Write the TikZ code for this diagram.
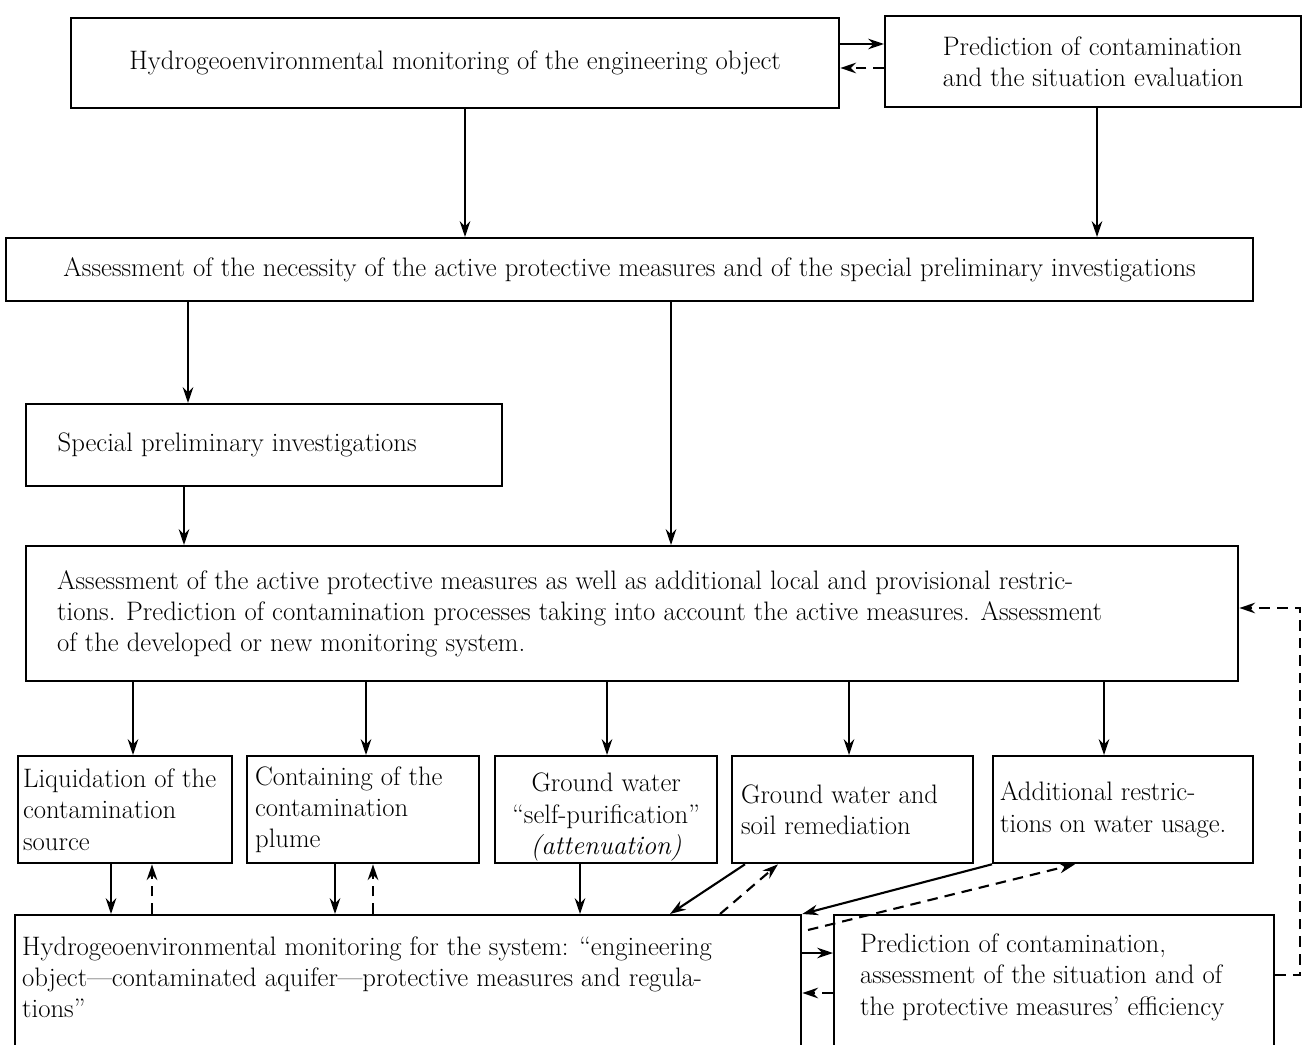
\documentclass[tikz,border=0pt]{standalone}
\usepackage{tikz}
\usetikzlibrary{arrows.meta,calc}

\tikzset{
  box/.style={draw,line width=1.3pt,inner sep=0pt,anchor=north west,align=left},
  dash line/.style={dashed,dash pattern=on 6pt off 4pt}
}

\begin{document}
\begin{tikzpicture}[x=0.2mm,y=-0.2mm,>={Stealth[length=9pt,width=6pt]},line width=1.2pt,
  font=\fontsize{15.2}{17.8}\selectfont]
  \useasboundingbox (0,0) rectangle (1303,1045);
  % upper part: monitoring and prediction
  \node[box,minimum width=768*0.2mm,minimum height=90*0.2mm] (mon) at (70,17)
    {Hydrogeoenvironmental monitoring of the engineering object};
  \node[box,minimum width=416*0.2mm,minimum height=91*0.2mm] (pred) at (884,15)
    {Prediction of contamination\\and the situation evaluation};
  \draw[->] (mon.east |- 0,44) -- (pred.west |- 0,44);
  \draw[->,dash line] (pred.west |- 0,68) -- (mon.east |- 0,68);
  % necessity of the measures
  \node[box,minimum width=1247*0.2mm,minimum height=63*0.2mm] (need) at (5,237)
    {Assessment of the necessity of the active protective measures and of the special preliminary investigations};
  \draw[->] (mon.south -| 465,0) -- (need.north -| 465,0);
  \draw[->] (pred.south -| 1097,0) -- (need.north -| 1097,0);
  % special investigations
  \node[box,minimum width=476*0.2mm,minimum height=82*0.2mm] (spec) at (25,403)
    {\hspace*{5.4mm}\parbox{88mm}{Special preliminary investigations}};
  \draw[->] (need.south -| 188,0) -- (spec.north -| 188,0);
  % assessment of the active measures
  \node[box,minimum width=1212*0.2mm,minimum height=135*0.2mm] (big) at (25,545)
    {\hspace*{6mm}\parbox{236mm}{\raggedright
      Assessment of the active protective measures as well as additional local and provisional restric-\\
      tions. Prediction of contamination processes taking into account the active measures. Assessment\\
      of the developed or new monitoring system.}};
  \draw[->] (spec.south -| 184,0) -- (big.north -| 184,0);
  \draw[->] (need.south -| 671,0) -- (big.north -| 671,0);
  % the measures
  \node[box,minimum width=214*0.2mm,minimum height=107*0.2mm] (liq) at (17,755)
    {\hspace*{1mm}\parbox{41.8mm}{Liquidation of the\\contamination\\source}};
  \node[box,minimum width=232*0.2mm,minimum height=107*0.2mm] (cont) at (246,755)
    {\hspace*{1.6mm}\parbox{44.8mm}{Containing of the\\contamination\\plume}};
  \node[box,minimum width=222*0.2mm,minimum height=107*0.2mm] (self) at (494,755)
    {\parbox[c][19.2mm][b]{44.4mm}{\centering Ground water\\``self-purification''\\\textit{(attenuation)}}};
  \node[box,minimum width=241*0.2mm,minimum height=107*0.2mm] (rem) at (731,755)
    {\hspace*{1.8mm}\parbox{46.4mm}{Ground water and\\soil remediation}};
  \node[box,minimum width=260*0.2mm,minimum height=107*0.2mm] (add) at (992,755)
    {\hspace*{1.4mm}\parbox{50.6mm}{Additional restric-\\tions on water usage.}};
  \foreach \x/\m in {133/liq,366/cont,607/self,849/rem,1104/add}
    \draw[->] (big.south -| \x,0) -- (\m.north -| \x,0);
  % monitoring of the whole system
  \node[box,minimum width=786*0.2mm,minimum height=140*0.2mm] (botl) at (14,914)
    {\hspace*{1.4mm}\parbox{155.8mm}{Hydrogeoenvironmental monitoring for the system: ``engineering\\
      object---contaminated aquifer---protective measures and regula-\\tions''\par\vspace*{3.2mm}}};
  \node[box,minimum width=440*0.2mm,minimum height=140*0.2mm] (botr) at (833,914)
    {\hspace*{5.2mm}\parbox{82.8mm}{Prediction of contamination,\\
      assessment of the situation and of\\the protective measures' efficiency\par\vspace*{3.2mm}}};
  \draw[->] (botl.east |- 0,953) -- (botr.west |- 0,953);
  \draw[->,dash line] (botr.west |- 0,993) -- (botl.east |- 0,993);
  % links between the measures and the monitoring
  \draw[->] (liq.south -| 111,0) -- (botl.north -| 111,0);
  \draw[->,dash line] (botl.north -| 152,0) -- (liq.south -| 152,0);
  \draw[->] (cont.south -| 335,0) -- (botl.north -| 335,0);
  \draw[->,dash line] (botl.north -| 373,0) -- (cont.south -| 373,0);
  \draw[->] (self.south -| 580,0) -- (botl.north -| 580,0);
  \draw[->] (rem.south -| 745,0) -- (botl.north -| 670,0);
  \draw[->,dash line] (botl.north -| 720,0) -- (rem.south -| 778,0);
  \draw[->] (add.south west) -- (botl.north east);
  \coordinate (gap) at (808,930);
  \draw[->,dash line] (gap) -- (add.south -| 1075,0);
  % feedback to the assessment
  \draw[->,dash line] (botr.east |- 0,975) -- (1300,975) -- (1300,608) -- (big.east |- 0,608);
\end{tikzpicture}
\end{document}
